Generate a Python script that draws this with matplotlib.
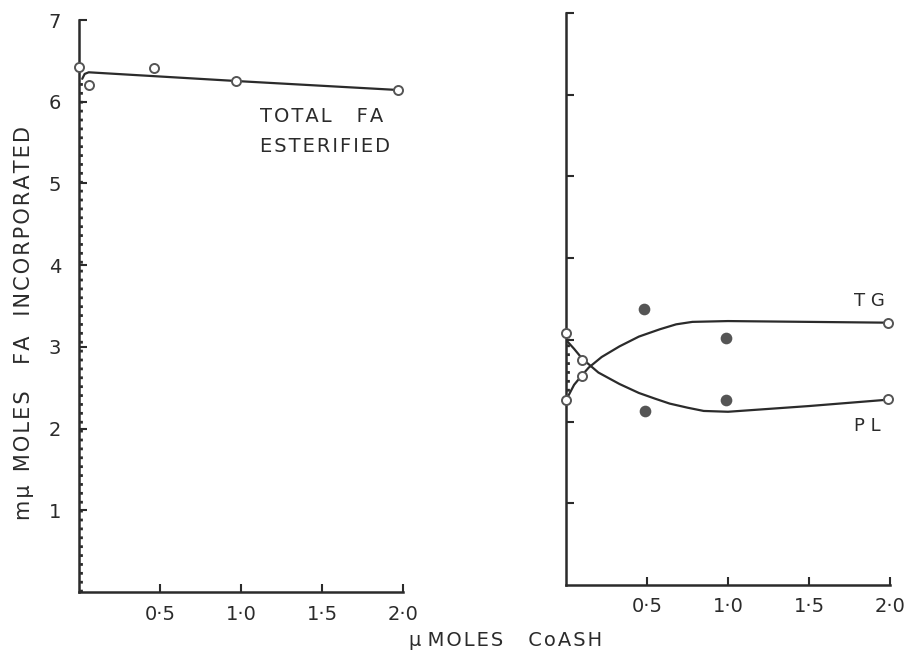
import matplotlib
matplotlib.use("Agg")
import matplotlib.pyplot as plt

plt.rcParams['font.family'] = ['DejaVu Sans']

# ---- data -------------------------------------------------------------
# Left panel: total fatty acid esterified
total_x = [0.0, 0.06, 0.46, 0.97, 1.97]
total_y = [6.43, 6.20, 6.41, 6.25, 6.14]
total_fit_x = [0.02, 0.035, 0.06, 1.0, 2.0]
total_fit_y = [6.28, 6.34, 6.36, 6.25, 6.14]

# Right panel: triglyceride (TG) and phospholipid (PL)
tg_x = [0.0, 0.10, 0.48, 0.99, 1.99]
tg_y = [2.26, 2.56, 3.38, 3.02, 3.21]
tg_filled = [False, False, True, True, False]
tg_fit_x = [0.0, 0.05, 0.10, 0.14, 0.22, 0.33, 0.45, 0.58, 0.68, 0.78, 1.0, 1.5, 2.0]
tg_fit_y = [2.26, 2.45, 2.57, 2.66, 2.79, 2.92, 3.04, 3.13, 3.19, 3.22, 3.23, 3.22, 3.21]

pl_x = [0.0, 0.10, 0.49, 0.99, 1.99]
pl_y = [3.09, 2.75, 2.13, 2.27, 2.28]
pl_filled = [False, False, True, True, False]
pl_fit_x = [0.0, 0.05, 0.10, 0.20, 0.33, 0.45, 0.55, 0.64, 0.75, 0.85, 1.0, 1.5, 2.0]
pl_fit_y = [3.00, 2.89, 2.77, 2.60, 2.46, 2.35, 2.28, 2.22, 2.17, 2.13, 2.12, 2.19, 2.27]

x_ticks = [0.5, 1.0, 1.5, 2.0]
x_tick_labels = ["0·5", "1·0", "1·5", "2·0"]
y_ticks = [1, 2, 3, 4, 5, 6, 7]
y_tick_labels = ["1", "2", "3", "4", "5", "6", "7"]


def spaced(words, gaps, gap="\u200a"):
    """Stencil-style lettering: a little air between letters, chosen word gaps."""
    out = gap.join(words[0])
    for w, g in zip(words[1:], gaps):
        out += " " * g + gap.join(w)
    return out


# ---- figure -----------------------------------------------------------
W, H = 908, 657
fig = plt.figure(figsize=(W / 100, H / 100), dpi=100)
ink = "#2b2b2b"
dot_ink = "#555555"


def frac_box(x0, x1, y_bottom, y_top):
    return [x0 / W, 1 - y_bottom / H, (x1 - x0) / W, (y_bottom - y_top) / H]


ax1 = fig.add_axes(frac_box(79, 403, 592, 20))
ax2 = fig.add_axes(frac_box(566, 890, 585, 13))

for ax in (ax1, ax2):
    ax.set_xlim(0, 2.0)
    ax.set_ylim(0, 7)
    for side in ("top", "right"):
        ax.spines[side].set_visible(False)
    for side in ("left", "bottom"):
        ax.spines[side].set_linewidth(1.8)
        ax.spines[side].set_color(ink)
    ax.set_xticks(x_ticks)
    ax.set_xticklabels(x_tick_labels)
    ax.set_yticks(y_ticks)
    ax.tick_params(direction="in", length=6, width=1.5, color=ink,
                   labelcolor=ink)
    ax.tick_params(axis="x", labelsize=14, pad=9)
    ax.patch.set_alpha(0)

ax1.set_yticklabels(y_tick_labels)
ax1.tick_params(axis="y", pad=13, labelsize=14)
ax2.set_yticklabels([])

# left panel
ax1.plot([0.012, 0.012], [0.0, 6.28], linestyle=(0, (1, 2.2)), color=ink, lw=2.0)
ax1.plot(total_fit_x, total_fit_y, color=ink, lw=1.6, solid_capstyle="round")
ax1.plot(total_x, total_y, linestyle="none", marker="o", ms=6.5,
         mfc="white", mec=dot_ink, mew=1.4, clip_on=False, zorder=5)
ax1.text(1.12, 5.82, spaced(["TOTAL", "FA"], [4]), fontsize=14,
         color=ink, ha="left", va="center")
ax1.text(1.12, 5.45, spaced(["ESTERIFIED"], []), fontsize=14,
         color=ink, ha="left", va="center")

# right panel
ax2.plot([0.012, 0.012], [tg_y[0], pl_y[0]], linestyle=(0, (1, 2.2)), color=ink, lw=2.0)
ax2.plot(tg_fit_x, tg_fit_y, color=ink, lw=1.6, solid_capstyle="round")
ax2.plot(pl_fit_x, pl_fit_y, color=ink, lw=1.6, solid_capstyle="round")
for xs, ys, filled in ((tg_x, tg_y, tg_filled), (pl_x, pl_y, pl_filled)):
    for xv, yv, f in zip(xs, ys, filled):
        ax2.plot([xv], [yv], linestyle="none", marker="o",
                 ms=6.5 if not f else 7.0,
                 mfc=dot_ink if f else "white", mec=dot_ink, mew=1.4,
                 clip_on=False, zorder=5)
ax2.text(1.78, 3.48, "T G", fontsize=13, color=ink, ha="left", va="center")
ax2.text(1.78, 1.95, "P L", fontsize=13, color=ink, ha="left", va="center")

# axis titles
fig.text(24 / W, 1 - 323 / H,
         spaced(["mμ", "MOLES", "FA", "INCORPORATED"], [2, 4, 3]),
         rotation=90, fontsize=15, color=ink, ha="center", va="center")
fig.text(506 / W, 1 - 641 / H, spaced(["μ", "MOLES", "CoASH"], [1, 4]),
         fontsize=14, color=ink, ha="center", va="center")

fig.savefig("out.png", dpi=100, facecolor="white")
